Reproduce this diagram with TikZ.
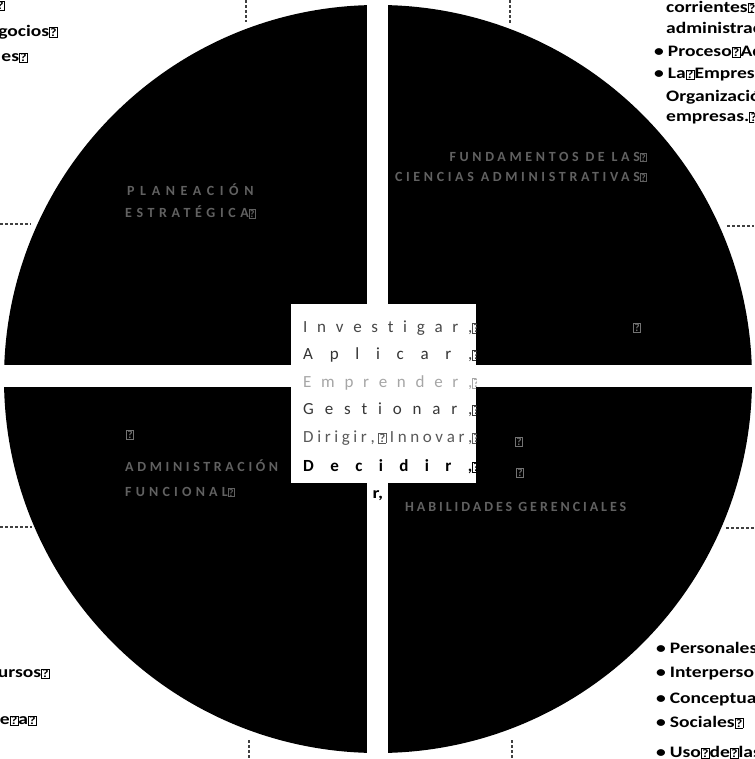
\documentclass[tikz,border=0pt]{standalone}
\usepackage{fontspec}
\setmainfont{Carlito}
\newcommand\qb{{\fboxsep=0.4pt\fboxrule=0.7pt\fbox{\scalebox{0.72}{\bfseries ?}}}}
\newcommand\bul{\textbullet\hspace{4pt}}
\begin{document}
\begin{tikzpicture}[x=1pt,y=-1pt,
  outer/.style={font=\fontsize{16}{18}\selectfont\bfseries\addfontfeature{FakeStretch=1.22}, text=black, inner sep=0},
  quad/.style={font=\fontsize{14}{16}\selectfont\bfseries\addfontfeature{LetterSpace=26}, text=black!62, inner sep=0},
  quadw/.style={quad, font=\fontsize{14}{16}\selectfont\bfseries\addfontfeature{LetterSpace=40}},
  qmark/.style={text=black!55, inner sep=0, font=\fontsize{15}{16}\selectfont},
  row/.style={font=\fontsize{17}{18}\selectfont, inner sep=0, anchor=west},
  tick/.style={draw=black!75, line width=1.4pt, densely dashed}]
\useasboundingbox (0,0) rectangle (754,759);
\clip (0,0) rectangle (754,759);
% disk and white cross
\fill[black] (378,379) circle[radius=374pt];
\fill[white] (367,0) rectangle (388,759);
\fill[white] (0,365) rectangle (754,387);
% connector stubs
\coordinate (t1a) at (246,0);   \coordinate (t1b) at (246,22);
\coordinate (t2a) at (510,0);   \coordinate (t2b) at (510,23);
\coordinate (b1a) at (249,740); \coordinate (b1b) at (249,759);
\coordinate (b2a) at (512,740); \coordinate (b2b) at (512,759);
\coordinate (l1a) at (0,224);   \coordinate (l1b) at (31,224);
\coordinate (l2a) at (0,527);   \coordinate (l2b) at (32,527);
\coordinate (r1a) at (727,226); \coordinate (r1b) at (754,226);
\coordinate (r2a) at (726,528); \coordinate (r2b) at (754,528);
\foreach \p in {t1,t2,b1,b2,l1,l2,r1,r2} \draw[tick] (\p a) -- (\p b);
% quadrant titles
\node[quadw, anchor=west] (ul1) at (127,190) {PLANEACIÓN};
\node[quad, anchor=west, font=\fontsize{14}{16}\selectfont\bfseries\addfontfeature{LetterSpace=33}] (ul2) at (125,212) {ESTRATÉGICA\qb};
\node[quad, anchor=east] (ur1) at (647,157) {FUNDAMENTOS DE LAS\qb};
\node[quad, anchor=east] (ur2) at (647,177) {CIENCIAS ADMINISTRATIVAS\qb};
\node[quad, anchor=west] (ll1) at (125,466) {ADMINISTRACIÓN};
\node[quad, anchor=west, font=\fontsize{14}{16}\selectfont\bfseries\addfontfeature{LetterSpace=30}] (ll2) at (125,492) {FUNCIONAL\qb};
\node[quad, anchor=west, font=\fontsize{14}{16}\selectfont\bfseries\addfontfeature{LetterSpace=21}] (lr1) at (405,507) {HABILIDADES GERENCIALES};
\node[qmark] (q1) at (637,328) {\qb};
\node[qmark] (q2) at (130,435) {\qb};
\node[qmark] (q3) at (519,442) {\qb};
\node[qmark] (q4) at (520,473) {\qb};
% central box
\node[fill=white, minimum width=185pt, minimum height=179pt, inner sep=0] (box) at (383.5,393.5) {};
\begin{scope}
\clip (box.south west) rectangle (box.north east);
\node[row, text=black!72] (w1) at (303,328) {\hbox to 177pt{I\hfill n\hfill v\hfill e\hfill s\hfill t\hfill i\hfill g\hfill a\hfill r\hfill ,\qb}};
\node[row, text=black!80] (w2) at (303,355) {\hbox to 177pt{A\hfill p\hfill l\hfill i\hfill c\hfill a\hfill r\hfill ,\qb}};
\node[row, text=black!35] (w3) at (303,383) {\hbox to 177pt{E\hfill m\hfill p\hfill r\hfill e\hfill n\hfill d\hfill e\hfill r\hfill ,\qb}};
\node[row, text=black!78] (w4) at (303,410) {\hbox to 177pt{G\hfill e\hfill s\hfill t\hfill i\hfill o\hfill n\hfill a\hfill r\hfill ,\qb}};
\node[row, text=black!65] (w5) at (303,438) {\hbox to 177pt{D\hfill i\hfill r\hfill i\hfill g\hfill i\hfill r\hfill ,\hfill\qb\hfill I\hfill n\hfill n\hfill o\hfill v\hfill a\hfill r\hfill ,\qb}};
\node[row, text=black, font=\fontsize{17}{18}\selectfont\bfseries] (w6) at (303,467) {\hbox to 177pt{D\hfill e\hfill c\hfill i\hfill d\hfill i\hfill r\hfill ,\qb}};
\end{scope}
\node[outer] (rc) at (378,496) {r,};
% outer texts, top left
\node[outer, anchor=east] (tl1) at (5,6) {\qb};
\node[outer, anchor=east] (tl2) at (58,32) {Negocios\qb};
\node[outer, anchor=east] (tl3) at (28,58) {es\qb};
% top right
\node[outer, anchor=west] (tr1) at (666,7) {corrientes\qb};
\node[outer, anchor=west] (tr2) at (666,28) {administración};
\node[outer, anchor=west] (tr3) at (654,51) {\bul Proceso\qb Administrativo};
\node[outer, anchor=west] (tr4) at (654,75) {\bul La\qb Empresa};
\node[outer, anchor=west] (tr5) at (666,97) {Organización};
\node[outer, anchor=west] (tr6) at (666,118) {empresas.\qb};
% bottom left
\node[outer, anchor=east] (bl1) at (50,673) {Recursos\qb};
\node[outer, anchor=east] (bl2) at (37,721) {e\qb a\qb};
% bottom right
\node[outer, anchor=west] (br1) at (656,648) {\bul Personales};
\node[outer, anchor=west] (br2) at (656,673) {\bul Interpersonales};
\node[outer, anchor=west] (br3) at (656,699) {\bul Conceptuales};
\node[outer, anchor=west] (br4) at (656,722) {\bul Sociales\qb};
\node[outer, anchor=west] (br5) at (656,752) {\bul Uso\qb de\qb las};
\end{tikzpicture}
\end{document}
